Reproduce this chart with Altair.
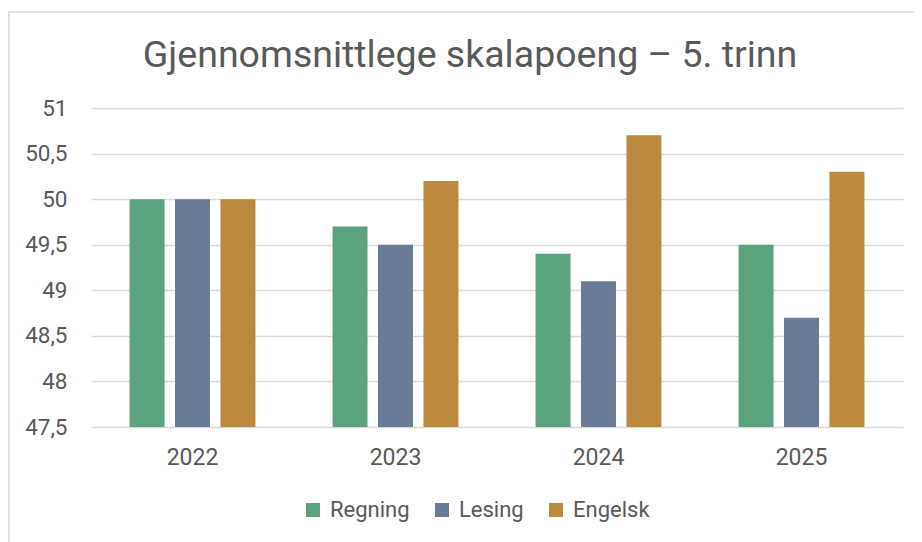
import altair as alt
import pandas as pd

years = ["2022", "2023", "2024", "2025"]
subjects = ["Regning", "Lesing", "Engelsk"]
regning = [50.0, 49.7, 49.4, 49.5]
lesing = [50.0, 49.5, 49.1, 48.7]
engelsk = [50.0, 50.2, 50.7, 50.3]
colors = ["#5BA37C", "#6B7A96", "#BB893D"]
y_ticks = [47.5, 48, 48.5, 49, 49.5, 50, 50.5, 51]

rows = []
for name, vals in zip(subjects, [regning, lesing, engelsk]):
    for yr, v in zip(years, vals):
        rows.append({"year": yr, "subject": name, "value": v})
df = pd.DataFrame(rows)

W, H = 812, 319
PL, PT, PR, PB = 83, 100, 11, 115

frame = alt.Chart(pd.DataFrame({"a": [0]})).mark_rect(
    fill="transparent", stroke="#D9D9D9", strokeWidth=1.5, clip=False
).encode(
    x=alt.value(-PL + 1), x2=alt.value(W + PR + 40),
    y=alt.value(-PT + 4), y2=alt.value(H + PB + 40),
)

bars = alt.Chart(df).mark_bar().encode(
    x=alt.X("year:N", sort=years, title=None,
            scale=alt.Scale(paddingInner=0.38, paddingOuter=0.19),
            axis=alt.Axis(labelAngle=0, labelFontSize=23, labelColor="#595959",
                          labelPadding=19, ticks=False, domain=False, grid=False,
                          labelFont="Roboto")),
    xOffset=alt.XOffset("subject:N", sort=subjects,
                        scale=alt.Scale(paddingInner=0.23, paddingOuter=0)),
    y=alt.Y("value:Q", title=None,
            scale=alt.Scale(domain=[47.5, 51], zero=False, nice=False),
            axis=alt.Axis(values=y_ticks, labelFontSize=22.5, labelColor="#595959",
                          labelPadding=24, ticks=False, domain=False,
                          gridColor="#D9D9D9", gridWidth=1.5, labelFont="Roboto",
                          labelExpr="replace(format(datum.value, '.1~f'), '.', ',')")),
    y2=alt.datum(47.5),
    color=alt.Color("subject:N", sort=subjects,
                    scale=alt.Scale(domain=subjects, range=colors),
                    legend=alt.Legend(title=None, orient="none", direction="horizontal",
                                      legendX=211, legendY=391, symbolType="square",
                                      symbolSize=196, symbolStrokeWidth=0,
                                      labelFontSize=22, labelColor="#595959",
                                      labelFont="Roboto", columnPadding=21,
                                      labelOffset=6)),
)

chart = alt.layer(frame, bars).properties(
    width=W, height=H,
    autosize=alt.AutoSizeParams(type="none"),
    padding={"left": PL, "top": PT, "right": PR, "bottom": PB},
    title=alt.TitleParams("Gjennomsnittlege skalapoeng – 5. trinn", fontSize=37.5,
                          font="Roboto", fontWeight="normal", color="#595959",
                          anchor="middle", dx=-27, offset=-93, baseline="alphabetic"),
).configure_view(stroke=None)

chart.save("out.html", embed_options={"renderer": "svg", "actions": False})
